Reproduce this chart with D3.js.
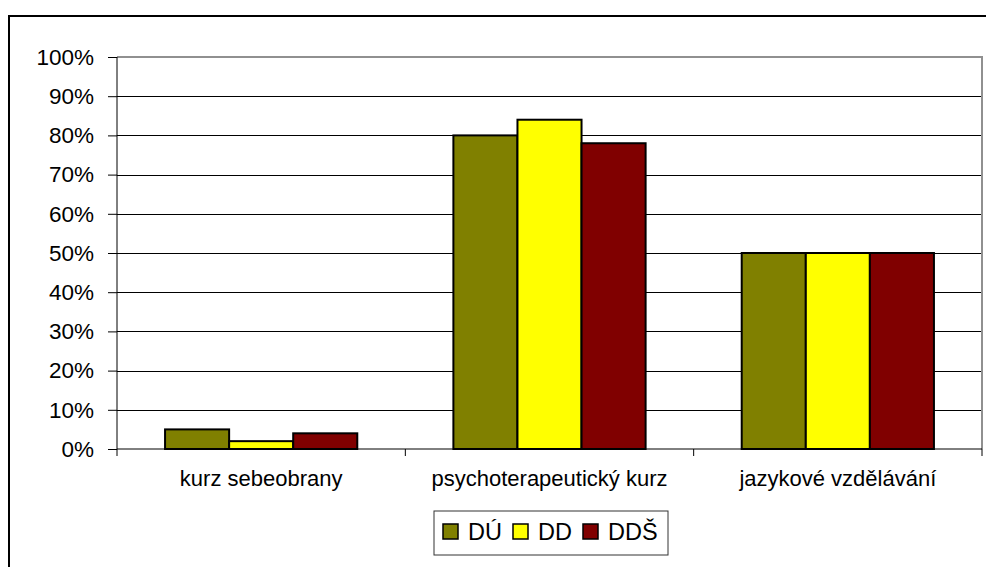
<!DOCTYPE html>
<html>
<head>
<meta charset="utf-8">
<style>
  html, body { margin: 0; padding: 0; background: #fff; }
  svg { display: block; font-family: "Liberation Sans", Arial, sans-serif; }
</style>
</head>
<body>
<svg id="chart" width="986" height="567"></svg>
<script src="https://cdn.jsdelivr.net/npm/d3@7"></script>
<script>
// data
var categories = ["kurz sebeobrany", "psychoterapeutický kurz", "jazykové vzdělávání"];
var seriesNames = ["DÚ", "DD", "DDŠ"];
var seriesColors = ["#808000", "#FFFF00", "#800000"];
var valuesDU = [5, 80, 50];
var valuesDD = [2, 84, 50];
var valuesDDS = [4, 78, 50];
var yTicks = [0, 10, 20, 30, 40, 50, 60, 70, 80, 90, 100];

(function(){
var series = [valuesDU, valuesDD, valuesDDS];

var svg = d3.select("#chart");

// outer chart frame (clipped at right/bottom)
svg.append("rect")
  .attr("x", 9).attr("y", 16)
  .attr("width", 1000).attr("height", 600)
  .attr("fill", "#fff").attr("stroke", "#000").attr("stroke-width", 2);

var pLeft = 117, pRight = 982, pTop = 57, pBottom = 449;

var x = d3.scaleBand().domain(categories).range([pLeft, pRight]);
var xInner = d3.scaleBand().domain(seriesNames).range([0, x.bandwidth()]).paddingOuter(0.75);
var y = d3.scaleLinear().domain([0, 100]).range([pBottom, pTop]);

// gridlines
svg.append("g").selectAll("line")
  .data(yTicks.filter(function(d){ return d > 0; }))
  .join("line")
  .attr("x1", pLeft).attr("x2", pRight)
  .attr("y1", function(d){ return Math.round(y(d)) + 0.5; })
  .attr("y2", function(d){ return Math.round(y(d)) + 0.5; })
  .attr("stroke", "#000").attr("stroke-width", 1);

// plot area border top & right (gray)
svg.append("path")
  .attr("d", "M" + pLeft + "," + pTop + "H" + pRight + "V" + pBottom)
  .attr("fill", "none").attr("stroke", "#909090").attr("stroke-width", 2);

// bars
series.forEach(function(vals, si){
  svg.append("g").selectAll("rect")
    .data(vals)
    .join("rect")
    .attr("x", function(d, i){ return x(categories[i]) + xInner(seriesNames[si]); })
    .attr("width", xInner.bandwidth())
    .attr("y", function(d){ return y(d); })
    .attr("height", function(d){ return y(0) - y(d); })
    .attr("fill", seriesColors[si])
    .attr("stroke", "#000").attr("stroke-width", 2);
});

// y axis
var yAxis = svg.append("g")
  .attr("transform", "translate(" + pLeft + ",0)")
  .call(d3.axisLeft(y).tickValues(yTicks).tickSize(9).tickPadding(14)
    .tickFormat(function(d){ return d + "%"; }));
yAxis.select(".domain").attr("d", "M0," + pTop + "V" + pBottom).attr("stroke", "#000");
yAxis.selectAll("text").attr("font-size", 22.5).attr("fill", "#000")
  .attr("font-family", "Liberation Sans, Arial, sans-serif");

// x axis
var xAxis = svg.append("g")
  .attr("transform", "translate(0," + pBottom + ")")
  .call(d3.axisBottom(x).tickSize(0).tickPadding(21));
xAxis.select(".domain").attr("d", "M" + pLeft + ",0H" + pRight).attr("stroke", "#000");
xAxis.selectAll("text").attr("font-size", 22).attr("fill", "#000")
  .attr("font-family", "Liberation Sans, Arial, sans-serif");
// category separator ticks
var bounds = categories.map(function(c){ return x(c); }).concat([pRight]);
svg.append("g").selectAll("line")
  .data(bounds)
  .join("line")
  .attr("x1", function(d){ return d; }).attr("x2", function(d){ return d; })
  .attr("y1", pBottom).attr("y2", pBottom + 7)
  .attr("stroke", "#000");

// legend
var lg = svg.append("g").attr("transform", "translate(434,511)");
lg.append("rect").attr("width", 234).attr("height", 44)
  .attr("fill", "#fff").attr("stroke", "#333").attr("stroke-width", 1);
var itemX = [9, 79, 149];
seriesNames.forEach(function(n, i){
  var g = lg.append("g").attr("transform", "translate(" + itemX[i] + ",0)");
  g.append("rect").attr("x", 0).attr("y", 13).attr("width", 15).attr("height", 15)
    .attr("fill", seriesColors[i]).attr("stroke", "#000").attr("stroke-width", 1.5);
  g.append("text").attr("x", 25).attr("y", 29).text(n)
    .attr("font-size", 23.5).attr("fill", "#000");
});
})();
</script>
</body>
</html>
